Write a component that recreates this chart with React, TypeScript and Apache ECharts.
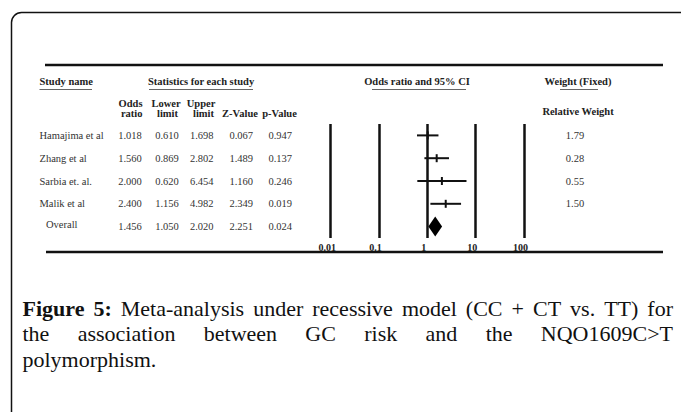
import React, { useEffect, useRef } from 'react';
import * as echarts from 'echarts';

const studies = ['Hamajima et al', 'Zhang et al', 'Sarbia et. al.', 'Malik et al', 'Overall'];
const oddsRatio = [1.018, 1.56, 2.0, 2.4, 1.456];
const lowerLimit = [0.61, 0.869, 0.62, 1.156, 1.05];
const upperLimit = [1.698, 2.802, 6.454, 4.982, 2.02];
const zValue = [0.067, 1.489, 1.16, 2.349, 2.251];
const pValue = [0.947, 0.137, 0.246, 0.019, 0.024];
const relWeight = [1.79, 0.28, 0.55, 1.5];
const tickValues = [0.01, 0.1, 1, 10, 100];
const tickLabels = ['0.01', '0.1', '1', '10', '100'];

const captionLine1 = ['Figure', '5:', 'Meta-analysis', 'under', 'recessive', 'model', '(CC', '+', 'CT', 'vs.', 'TT)', 'for'];
const captionBoldCount = 2;
const captionLine2 = ['the', 'association', 'between', 'GC', 'risk', 'and', 'the', 'NQO1609C>T'];
const captionLine3 = 'polymorphism.';

const SERIF = '"Liberation Serif", "Times New Roman", serif';
const CAP_SIZE = 22;

function measure(text: string, bold: boolean): number {
  const c = document.createElement('canvas');
  const ctx = c.getContext('2d')!;
  ctx.font = `${bold ? 'bold ' : ''}${CAP_SIZE}px ${SERIF}`;
  return ctx.measureText(text).width;
}

function justified(words: string[], boldCount: number, x0: number, x1: number, y: number) {
  const widths = words.map((w, i) => measure(w, i < boldCount));
  const total = widths.reduce((a, b) => a + b, 0);
  const gap = (x1 - x0 - total) / (words.length - 1);
  let x = x0;
  return words.map((w, i) => {
    const el = {
      type: 'text',
      x,
      y,
      style: {
        text: w,
        font: `${i < boldCount ? 'bold ' : ''}${CAP_SIZE}px ${SERIF}`,
        fill: '#111',
        align: 'left',
        verticalAlign: 'middle',
      },
    };
    x += widths[i] + gap;
    return el;
  });
}

export default function App() {
  const ref = useRef<HTMLDivElement>(null);
  useEffect(() => {
    if (!ref.current) return;
    const chart = echarts.init(ref.current, undefined, { renderer: 'svg' });

    const hdrFont = `bold 10.5px ${SERIF}`;
    const bodyFont = `10.5px ${SERIF}`;
    const hdr = (text: string, x: number, y: number, align = 'center') => ({
      type: 'text',
      x,
      y,
      style: { text, font: hdrFont, fill: '#222', align, verticalAlign: 'middle' },
    });
    const hline = (x1: number, x2: number, y: number, w: number, c = '#111') => ({
      type: 'line',
      shape: { x1, y1: y, x2, y2: y },
      style: { stroke: c, lineWidth: w },
    });

    const graphic: any[] = [
      {
        type: 'rect',
        shape: { x: 11.5, y: 12.5, width: 720, height: 440, r: 10 },
        style: { fill: 'none', stroke: '#111', lineWidth: 1.5 },
      },
      hline(45, 663, 65, 2.5),
      hline(46, 663, 252, 2.5),
      hdr('Study name', 39.5, 81, 'left'),
      hline(39.5, 92, 89.5, 1, '#666'),
      hdr('Statistics for each study', 201, 81),
      hline(149, 253, 89.5, 1, '#666'),
      hdr('Odds ratio and 95% CI', 417, 81),
      hline(372, 466, 89.5, 1, '#666'),
      hdr('Weight (Fixed)', 578, 81),
      hline(560, 598, 89.5, 1, '#666'),
      hdr('Odds', 142.5, 103, 'right'),
      hdr('ratio', 142.5, 113, 'right'),
      hdr('Lower', 166, 103),
      hdr('limit', 167.5, 113),
      hdr('Upper', 201, 103),
      hdr('limit', 214, 113, 'right'),
      hdr('Z-Value', 240, 113),
      hdr('p-Value', 279.5, 113),
      hdr('Relative Weight', 578, 111.5),
      ...justified(captionLine1, captionBoldCount, 22.5, 673, 308),
      ...justified(captionLine2, 0, 22.5, 673, 333.5),
      {
        type: 'text',
        x: 22.5,
        y: 359,
        style: { text: captionLine3, font: `${CAP_SIZE}px ${SERIF}`, fill: '#111', align: 'left', verticalAlign: 'middle' },
      },
    ];

    const studyIdx = studies.map((_, i) => i);
    const ciData = studyIdx.slice(0, 4).map((i) => [lowerLimit[i], upperLimit[i], oddsRatio[i], i]);
    const overallData = [[lowerLimit[4], upperLimit[4], oddsRatio[4], 4]];
    const tableData = studyIdx.map((i) => [1, i]);

    chart.setOption({
      animation: false,
      backgroundColor: '#fff',
      grid: { left: 330.7, right: 157, top: 124, height: 114, containLabel: false },
      xAxis: {
        type: 'log',
        logBase: 10,
        min: 0.01,
        max: 100,
        axisLine: { show: false },
        axisTick: { show: false },
        splitLine: { show: true, showMinLine: true, showMaxLine: true, lineStyle: { color: '#111', width: 2.5 } },
        axisLabel: {
          margin: 4,
          fontFamily: SERIF,
          fontSize: 10,
          fontWeight: 'bold',
          color: '#222',
          padding: [0, 7, 0, 0],
          formatter: (v: number) => {
            const i = tickValues.findIndex((t) => Math.abs(Math.log10(t) - Math.log10(v)) < 1e-6);
            return i >= 0 ? tickLabels[i] : '';
          },
        },
      },
      yAxis: {
        type: 'category',
        data: studies,
        inverse: true,
        show: false,
      },
      graphic,
      series: [
        {
          type: 'custom',
          name: 'CI',
          data: ciData,
          encode: { x: [0, 1, 2], y: 3 },
          renderItem: (params: any, api: any) => {
            const row = api.value(3);
            const lo = api.coord([api.value(0), row]);
            const hi = api.coord([api.value(1), row]);
            const mid = api.coord([api.value(2), row]);
            const st = { stroke: '#111', lineWidth: 2 };
            return {
              type: 'group',
              children: [
                { type: 'line', shape: { x1: lo[0], y1: lo[1], x2: hi[0], y2: hi[1] }, style: st },
                { type: 'line', shape: { x1: mid[0], y1: mid[1] - 4, x2: mid[0], y2: mid[1] + 4 }, style: st },
              ],
            };
          },
        },
        {
          type: 'custom',
          name: 'Overall',
          data: overallData,
          encode: { x: [0, 1, 2], y: 3 },
          renderItem: (params: any, api: any) => {
            const row = api.value(3);
            const lo = api.coord([api.value(0), row]);
            const hi = api.coord([api.value(1), row]);
            const mid = api.coord([api.value(2), row]);
            return {
              type: 'polygon',
              shape: {
                points: [
                  [lo[0], lo[1]],
                  [mid[0], mid[1] - 10],
                  [hi[0], hi[1]],
                  [mid[0], mid[1] + 10],
                ],
              },
              style: { fill: '#000' },
            };
          },
        },
        {
          type: 'custom',
          name: 'Table',
          data: tableData,
          encode: { x: 0, y: 1 },
          clip: false,
          renderItem: (params: any, api: any) => {
            const i = params.dataIndex;
            const y = api.coord([1, api.value(1)])[1];
            const t = (text: string, x: number, align = 'center', dy = 0) => ({
              type: 'text',
              x,
              y: y + dy,
              style: { text, font: bodyFont, fill: '#333', align, verticalAlign: 'middle' },
            });
            const isOverall = i === 4;
            const children: any[] = [
              t(studies[i], isOverall ? 46 : 39.5, 'left', isOverall ? -2 : 0),
              t(oddsRatio[i].toFixed(3), 130),
              t(lowerLimit[i].toFixed(3), 167),
              t(upperLimit[i].toFixed(3), 201.7),
              t(zValue[i].toFixed(3), 241.3),
              t(pValue[i].toFixed(3), 280.3),
            ];
            if (i < relWeight.length) children.push(t(relWeight[i].toFixed(2), 575));
            return { type: 'group', children };
          },
        },
      ],
    });
    return () => chart.dispose();
  }, []);
  return <div ref={ref} style={{ position: 'absolute', left: 0, top: 0, width: 681, height: 412 }} />;
}
